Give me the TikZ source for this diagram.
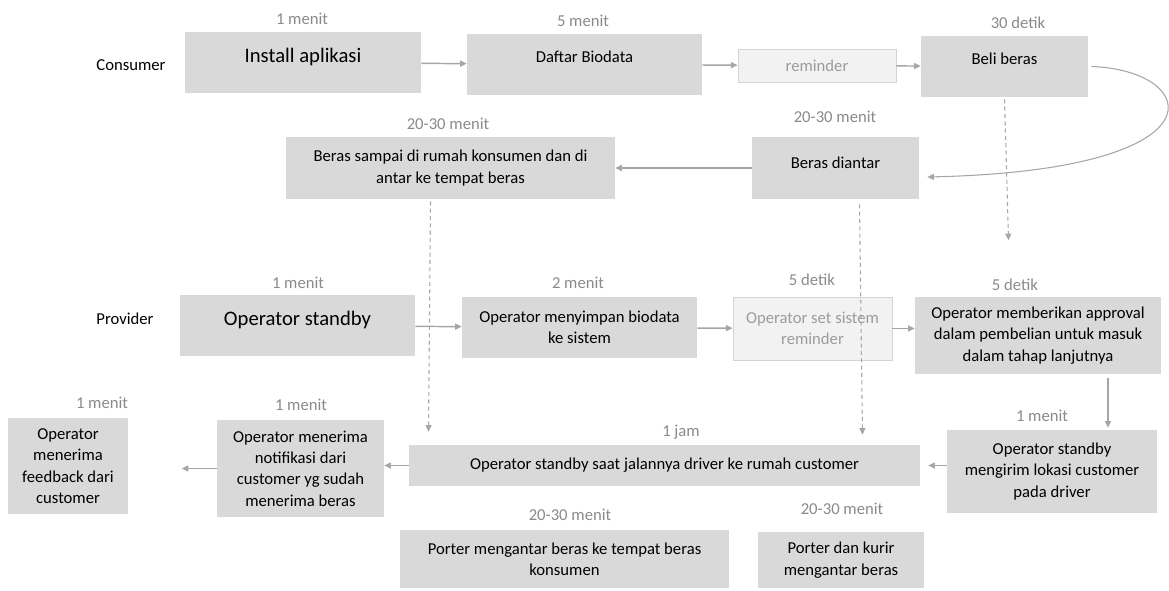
\documentclass[tikz,border=0pt]{standalone}
\usepackage{fontspec}
\setmainfont{Carlito}
\usepackage{tikz}
\usetikzlibrary{arrows.meta,positioning}
\definecolor{boxgray}{HTML}{D9D9D9}
\definecolor{lightfill}{HTML}{F2F2F2}
\definecolor{lightline}{HTML}{D4D4D4}
\definecolor{arrowgray}{HTML}{A6A6A6}
\definecolor{timegray}{HTML}{8A8A8A}
\definecolor{lighttext}{HTML}{9C9C9C}
\tikzset{
  box/.style={fill=boxgray, inner sep=0pt, align=center, text=black,
    font=\fontsize{12.5}{16}\selectfont},
  lightbox/.style={box, fill=lightfill, draw=lightline, line width=0.6pt, text=lighttext},
  bigtext/.style={font=\fontsize{15.5}{19}\selectfont},
  boxsize/.style 2 args={minimum width=#1*0.75pt, minimum height=#2*0.75pt},
  raised/.style={text depth=#1}, raised/.default=11pt,
  tlabel/.style={text=timegray, inner sep=0pt, font=\fontsize{12.5}{16}\selectfont},
  rowlabel/.style={text=black, inner sep=0pt, font=\fontsize{12.5}{16}\selectfont},
  arr/.style={draw=arrowgray, line width=1.1pt, -{Triangle[length=5pt,width=4.5pt]}},
  dasharr/.style={draw=arrowgray, line width=0.8pt, dash pattern=on 3pt off 2.5pt,
    -{Triangle[length=5pt,width=4.5pt]}},
}
\begin{document}
\begin{tikzpicture}[x=0.75pt,y=-0.75pt]
  \useasboundingbox (0,0) rectangle (1169,590);
  % row labels
  \node[rowlabel] (cons) at (131,65) {Consumer};
  \node[rowlabel] (prov) at (125,319) {Provider};
  % consumer boxes
  \node[box, bigtext, raised, boxsize={236}{61}] (install) at (303,62.5) {Install aplikasi};
  \node[box, raised, boxsize={235}{61}] (daftar) at (584.5,64.5) {Daftar Biodata};
  \node[lightbox, boxsize={158}{33}] (remind) at (817,65.5) {reminder};
  \node[box, raised, boxsize={167}{61}] (beli) at (1004.5,66.5) {Beli beras};
  \node[box, raised=7.5pt, boxsize={167}{62}] (diantar) at (835.5,168) {Beras diantar};
  \node[box, boxsize={329}{62}] (sampai) at (450.5,168)
    {Beras sampai di rumah konsumen dan di\\antar ke tempat beras};
  % provider boxes
  \node[box, bigtext, raised, boxsize={235}{61}] (standby) at (297.5,325.5) {Operator standby};
  \node[box, boxsize={235}{61}] (simpan) at (579.5,327.5) {Operator menyimpan biodata\\ke sistem};
  \node[lightbox, boxsize={159}{63}] (setrem) at (812.5,328.5) {Operator set sistem\\reminder};
  \node[box, boxsize={246}{77}] (approval) at (1038,335.5)
    {Operator memberikan approval\\dalam pembelian untuk masuk\\dalam tahap lanjutnya};
  \node[box, boxsize={210}{83}] (kirim) at (1052,471.5)
    {Operator standby\\mengirim lokasi customer\\pada driver};
  \node[box, boxsize={511}{41}] (saat) at (664.5,465.5)
    {Operator standby saat jalannya driver ke rumah customer};
  \node[box, boxsize={167}{97}] (notif) at (300.5,468.5)
    {Operator menerima\\notifikasi dari\\customer yg sudah\\menerima beras};
  \node[box, boxsize={120}{96}] (feedback) at (68,466)
    {Operator\\menerima\\feedback dari\\customer};
  \node[box, boxsize={329}{58}] (porter) at (564.5,559)
    {Porter mengantar beras ke tempat beras\\konsumen};
  \node[box, boxsize={166}{56}] (kurir) at (841,560) {Porter dan kurir\\mengantar beras};
  % time labels
  \node[tlabel] (t-install) at (302,19) {1 menit};
  \node[tlabel] (t-daftar) at (583,21) {5 menit};
  \node[tlabel] (t-beli) at (1018,23) {30 detik};
  \node[tlabel] (t-sampai) at (448,124) {20-30 menit};
  \node[tlabel] (t-diantar) at (835,117) {20-30 menit};
  \node[tlabel] (t-standby) at (298,283) {1 menit};
  \node[tlabel] (t-simpan) at (578,283) {2 menit};
  \node[tlabel] (t-setrem) at (812,280) {5 detik};
  \node[tlabel] (t-approval) at (1015,285) {5 detik};
  \node[tlabel] (t-kirim) at (1042,416) {1 menit};
  \node[tlabel] (t-saat) at (681,432) {1 jam};
  \node[tlabel] (t-notif) at (301,405) {1 menit};
  \node[tlabel] (t-feedback) at (102,403) {1 menit};
  \node[tlabel] (t-porter) at (570,515) {20-30 menit};
  \node[tlabel] (t-kurir) at (842,509) {20-30 menit};
  % consumer flow
  \draw[arr] (install) -- (daftar);
  \draw[arr] (daftar) -- (remind);
  \draw[arr] (remind) -- (beli);
  \draw[arr, line width=0.8pt] ([shift={(3,0)}]beli.east) .. controls (1200,70) and (1230,170) .. ([shift={(8,9)}]diantar.east);
  \draw[arr] (diantar) -- (sampai);
  % provider flow
  \draw[arr] (standby) -- (simpan);
  \draw[arr] (simpan) -- (setrem);
  \draw[arr] (setrem.east) -- (setrem.east -| approval.west);
  \draw[arr] ([shift={(70,4)}]approval.south) -- ([shift={(56,-2)}]kirim.north);
  \draw[arr] (kirim.west |- saat) -- ([shift={(8,0)}]saat.east);
  \draw[arr] (saat.west) -- (saat.west -| notif.east);
  \draw[arr] (notif.west) -- ++(-35,0);
  % dashed links
  \draw[dasharr] ([shift={(-20,2)}]sampai.south) -- ([shift={(-236,-13)}]saat.north);
  \draw[dasharr] ([shift={(24,5)}]diantar.south) -- ([shift={(198,-10)}]saat.north);
  \draw[dasharr] ([shift={(0,2)}]beli.south) -- ++(4,141);
\end{tikzpicture}
\end{document}
